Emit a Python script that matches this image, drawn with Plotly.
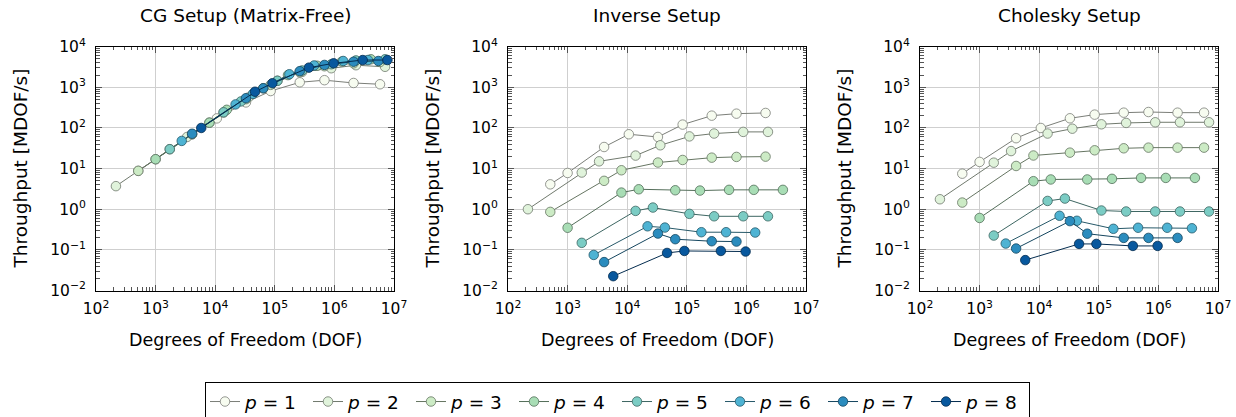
import plotly.graph_objects as go

# ---------------- data ----------------
P_VALUES = [1, 2, 3, 4, 5, 6, 7, 8]
PANEL_TITLES = ["CG Setup (Matrix-Free)", "Inverse Setup", "Cholesky Setup"]
X_LABEL = "Degrees of Freedom (DOF)"
Y_LABEL = "Throughput [MDOF/s]"

CG_DOF = [
    [512, 1000, 4096, 10648, 32768, 85184, 262144, 681472, 2097152, 5832000],
    [216, 1728, 3375, 13824, 35937, 110592, 287496, 884736, 2299968, 7077888],
    [512, 4096, 8000, 32768, 85184, 262144, 681472, 2097152, 5832000],
    [1000, 8000, 15625, 64000, 166375, 512000, 1331000, 4096000],
    [1728, 13824, 27000, 110592, 287496, 884736, 2299968, 7077888],
    [2744, 21952, 42875, 175616, 456533, 1404928, 3652264],
    [4096, 32768, 64000, 262144, 681472, 2097152, 5451776],
    [5832, 46656, 91125, 373248, 970299, 2985984, 7762392],
]
CG_THR = [
    [8.8, 17, 70, 172, 425, 810, 1330, 1500, 1280, 1190],
    [3.7, 30, 60, 240, 560, 1450, 2400, 2950, 3500, 3200],
    [8.8, 70, 135, 510, 1150, 2350, 3300, 3900, 4200],
    [17, 135, 280, 950, 2000, 3400, 4300, 4900],
    [30, 243, 450, 1450, 2600, 3700, 4600, 4900],
    [48, 380, 690, 2100, 3450, 4450, 4700],
    [72, 540, 950, 2500, 3560, 4270, 4450],
    [100, 780, 1260, 3050, 3900, 4700, 4700],
]

INV_DOF = [
    [512, 1000, 4096, 10648, 32768, 85184, 262144, 681472, 2097152],
    [216, 1728, 3375, 13824, 35937, 110592, 287496, 884736, 2299968],
    [512, 4096, 8000, 32768, 85184, 262144, 681472, 2097152],
    [1000, 8000, 15625, 64000, 166375, 512000, 1331000, 4096000],
    [1728, 13824, 27000, 110592, 287496, 884736, 2299968],
    [2744, 21952, 42875, 175616, 456533, 1404928],
    [4096, 32768, 64000, 262144, 681472],
    [5832, 46656, 91125, 373248, 970299],
]
INV_THR = [
    [4.1, 7.8, 34, 70, 60, 121, 201, 225, 234],
    [1.0, 8.0, 15.1, 20.9, 37.5, 62, 73, 80, 80],
    [0.86, 5.0, 9.1, 14.1, 16.3, 18.6, 19.4, 19.7],
    [0.35, 2.57, 3.1, 2.93, 2.88, 3.0, 3.0, 3.0],
    [0.149, 0.91, 1.1, 0.77, 0.67, 0.67, 0.67],
    [0.075, 0.38, 0.354, 0.272, 0.272, 0.267],
    [0.050, 0.252, 0.183, 0.163, 0.16],
    [0.0225, 0.084, 0.094, 0.094, 0.091],
]

CHOL_DOF = [
    [512, 1000, 4096, 10648, 32768, 85184, 262144, 681472, 2097152, 5832000],
    [216, 1728, 3375, 13824, 35937, 110592, 287496, 884736, 2299968, 7077888],
    [512, 4096, 8000, 32768, 85184, 262144, 681472, 2097152, 5832000],
    [1000, 8000, 15625, 64000, 166375, 512000, 1331000, 4096000],
    [1728, 13824, 27000, 110592, 287496, 884736, 2299968, 7077888],
    [2744, 21952, 42875, 175616, 456533, 1404928, 3652264],
    [4096, 32768, 64000, 262144, 681472, 2097152],
    [5832, 46656, 91125, 373248, 970299],
]
CHOL_THR = [
    [7.5, 14.6, 56, 100, 173, 213, 238, 247, 238, 238],
    [1.76, 14, 27, 73, 96, 123, 133, 138, 138, 138],
    [1.46, 11.6, 21, 24.7, 28.2, 31.6, 32.8, 32.8, 32.8],
    [0.61, 4.9, 5.4, 5.4, 5.6, 5.9, 5.9, 5.9],
    [0.225, 1.6, 1.83, 0.93, 0.88, 0.88, 0.88, 0.88],
    [0.143, 0.69, 0.52, 0.33, 0.35, 0.35, 0.34],
    [0.108, 0.51, 0.25, 0.197, 0.197, 0.197],
    [0.056, 0.14, 0.14, 0.125, 0.125],
]

X_TICKS = [1e2, 1e3, 1e4, 1e5, 1e6, 1e7]
X_TICKTEXT = ["10<sup>2</sup>", "10<sup>3</sup>", "10<sup>4</sup>", "10<sup>5</sup>",
              "10<sup>6</sup>", "10<sup>7</sup>"]
Y_TICKS = [1e-2, 1e-1, 1e0, 1e1, 1e2, 1e3, 1e4]
Y_TICKTEXT = ["10<sup>\u22122</sup>", "10<sup>\u22121</sup>", "10<sup>0</sup>", "10<sup>1</sup>",
              "10<sup>2</sup>", "10<sup>3</sup>", "10<sup>4</sup>"]

# ---------------- style ----------------
PALETTE = ["#f7fcf0", "#e0f3db", "#ccebc5", "#a8ddb5", "#7bccc4", "#4eb3d3", "#2b8cbe", "#08589e"]


def darken(hexcol, f=0.5):
    h = hexcol.lstrip("#")
    r, g, b = (int(h[i:i + 2], 16) for i in (0, 2, 4))
    return "#%02x%02x%02x" % (int(r * f), int(g * f), int(b * f))


W, H = 1236, 417
FONT = "DejaVu Sans"
TITLE_SIZE = 18.5
XLABEL_SIZE = 17.5
YLABEL_SIZE = 18.5
LEGEND_SIZE = 18.5
TICK_SIZE = 15.5
PLOT_LEFT = [96, 508, 920]
PLOT_W = 298
PLOT_TOP, PLOT_BOTTOM = 46.7, 290.5

fig = go.Figure()

panels = [(CG_DOF, CG_THR), (INV_DOF, INV_THR), (CHOL_DOF, CHOL_THR)]
minor_x = [m * 10 ** e for e in range(2, 7) for m in range(2, 10)]
minor_y = [m * 10.0 ** e for e in range(-2, 4) for m in range(2, 10)]

for k, (dofs, thrs) in enumerate(panels):
    xa = "x" if k == 0 else "x%d" % (k + 1)
    ya = "y" if k == 0 else "y%d" % (k + 1)
    for i, p in enumerate(P_VALUES):
        fig.add_trace(go.Scatter(
            x=dofs[i], y=thrs[i], mode="lines+markers",
            name="<i>p</i> = %d" % p,
            legendgroup="p%d" % p, showlegend=(k == 0),
            line=dict(color=darken(PALETTE[i]), width=1),
            marker=dict(size=9.5, color=PALETTE[i], line=dict(color=darken(PALETTE[i]), width=0.8)),
            xaxis=xa, yaxis=ya,
        ))

axis_common = dict(
    type="log", showline=True, linecolor="black", linewidth=1, mirror="allticks",
    ticks="inside", ticklen=6, tickcolor="#555555", tickwidth=1,
    showgrid=True, gridcolor="#cfcfcf", gridwidth=1, zeroline=False,
    tickfont=dict(family=FONT, size=TICK_SIZE, color="black"),
)

layout = dict(
    width=W, height=H, autosize=False,
    margin=dict(l=0, r=0, t=0, b=0, autoexpand=False),
    paper_bgcolor="white", plot_bgcolor="white",
    font=dict(family=FONT, size=XLABEL_SIZE, color="black"),
    showlegend=True,
    legend=dict(
        orientation="h", x=205 / W, y=1 - 382 / H, xanchor="left", yanchor="top",
        bordercolor="black", borderwidth=1, bgcolor="white",
        font=dict(family=FONT, size=LEGEND_SIZE, color="black"),
        entrywidth=58, entrywidthmode="pixels", tracegroupgap=0,
        itemclick=False,
    ),
)

ydom = [1 - PLOT_BOTTOM / H, 1 - PLOT_TOP / H]
annotations = []
for k in range(3):
    xname = "xaxis" if k == 0 else "xaxis%d" % (k + 1)
    yname = "yaxis" if k == 0 else "yaxis%d" % (k + 1)
    xdom = [PLOT_LEFT[k] / W, (PLOT_LEFT[k] + PLOT_W) / W]
    layout[xname] = dict(axis_common, domain=xdom, range=[2, 7],
                         anchor="y" if k == 0 else "y%d" % (k + 1),
                         tickmode="array", tickvals=X_TICKS, ticktext=X_TICKTEXT,
                         ticklabelstandoff=4,
                         minor=dict(ticks="inside", ticklen=3.5, tickcolor="#555555",
                                    tickmode="array", tickvals=minor_x, showgrid=False))
    layout[yname] = dict(axis_common, domain=ydom, range=[-2, 4],
                         anchor="x" if k == 0 else "x%d" % (k + 1),
                         tickmode="array", tickvals=Y_TICKS, ticktext=Y_TICKTEXT,
                         ticklabelstandoff=6,
                         minor=dict(ticks="inside", ticklen=3.5, tickcolor="#555555",
                                    tickmode="array", tickvals=minor_y, showgrid=False))
    cx = (PLOT_LEFT[k] + PLOT_W / 2) / W
    annotations.append(dict(text=PANEL_TITLES[k], x=cx, y=1 - 15 / H, xref="paper", yref="paper",
                            xanchor="center", yanchor="middle", showarrow=False,
                            font=dict(family=FONT, size=TITLE_SIZE, color="black")))
    annotations.append(dict(text=X_LABEL, x=cx, y=1 - 340 / H, xref="paper", yref="paper",
                            xanchor="center", yanchor="middle", showarrow=False,
                            font=dict(family=FONT, size=XLABEL_SIZE, color="black")))
    annotations.append(dict(text=Y_LABEL, x=(PLOT_LEFT[k] - 75) / W,
                            y=1 - (PLOT_TOP + PLOT_BOTTOM) / 2 / H, xref="paper", yref="paper",
                            xanchor="center", yanchor="middle", showarrow=False, textangle=-90,
                            font=dict(family=FONT, size=YLABEL_SIZE, color="black")))
layout["annotations"] = annotations

fig.update_layout(**layout)
fig.write_html("out.html")
